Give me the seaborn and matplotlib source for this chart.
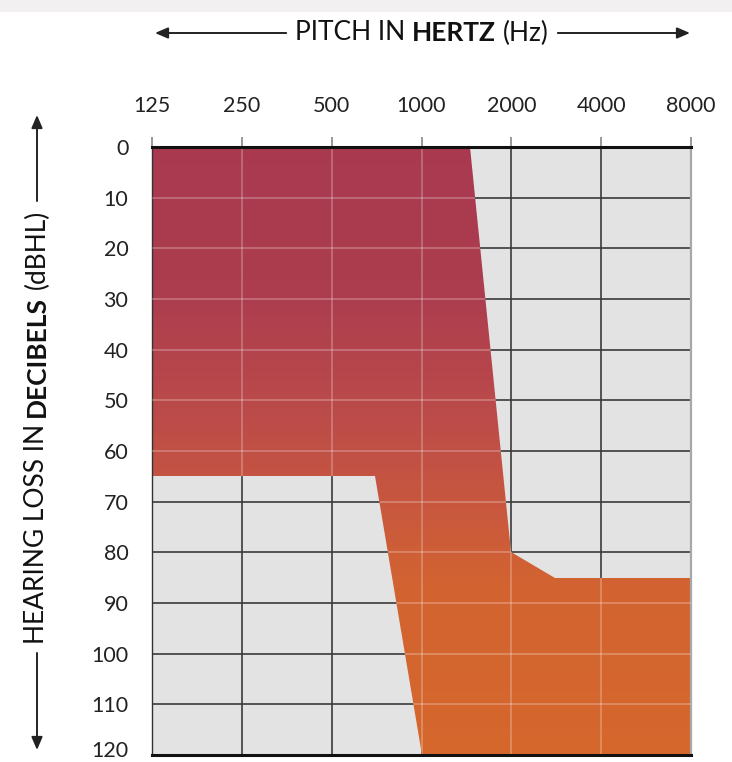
import numpy as np
import matplotlib
matplotlib.use("Agg")
import matplotlib.pyplot as plt
import matplotlib.transforms as mtransforms
import seaborn as sns
from matplotlib.patches import Polygon, Rectangle, FancyArrowPatch
from matplotlib.colors import LinearSegmentedColormap

# ---- data ----
freq_ticks = [125, 250, 500, 1000, 2000, 4000, 8000]
freq_labels = ["125", "250", "500", "1000", "2000", "4000", "8000"]
db_ticks = list(range(0, 121, 10))
# upper (softest-sound) boundary of the hearing-loss region
upper_freq = [125, 1450, 2000, 2800, 8000]
upper_db = [0, 0, 80, 85, 85]
# lower boundary of the region
lower_freq = [125, 700, 1000, 8000]
lower_db = [65, 65, 120, 120]

sns.set_theme(style="white")
plt.rcParams["font.family"] = ["Lato", "DejaVu Sans"]

W, H = 732, 762
fig = plt.figure(figsize=(W / 100, H / 100), dpi=100)
fig.patch.set_facecolor("white")
fig.patches.append(Rectangle((0, 1 - 12 / H), 1, 12 / H, transform=fig.transFigure,
                             facecolor="#f2f0f0", edgecolor="none", zorder=0))

ax = fig.add_axes([152 / W, 1 - 755 / H, (691 - 152) / W, (755 - 147) / H])
ax.set_facecolor("#e3e3e3")
ax.set_xscale("log", base=2)
ax.set_xlim(freq_ticks[0], freq_ticks[-1])
ax.set_ylim(db_ticks[-1], db_ticks[0])

# dark grid on grey background
for f in freq_ticks[1:-1]:
    ax.axvline(f, color="#3a3a3a", lw=1.2, zorder=1)
for d in db_ticks[1:-1]:
    ax.axhline(d, color="#3a3a3a", lw=1.2, zorder=1)

# region polygon
verts = list(zip(upper_freq, upper_db)) + list(zip(lower_freq[::-1], lower_db[::-1]))
poly = Polygon(verts, closed=True, facecolor="none", edgecolor="none", zorder=2)
ax.add_patch(poly)

cmap = LinearSegmentedColormap.from_list(
    "loss",
    [(0.0, "#a8394f"), (0.25, "#ac3d4e"), (0.46, "#bd4c49"),
     (0.58, "#c7563f"), (0.72, "#d26331"), (1.0, "#d5672c")])
yy = np.linspace(0, 120, 241)
cc = ((yy[:-1] + yy[1:]) / 2).reshape(-1, 1)
mesh = ax.pcolormesh([freq_ticks[0], freq_ticks[-1]], yy, cc, cmap=cmap,
                     vmin=0, vmax=120, shading="flat", zorder=2)
mesh.set_clip_path(poly)
sns.lineplot(x=upper_freq, y=upper_db, ax=ax, color="#a8394f", lw=0, zorder=2)

# light grid over the coloured region
for f in freq_ticks[1:-1]:
    l = ax.axvline(f, color="white", lw=1.1, alpha=0.3, zorder=3)
    l.set_clip_path(poly)
for d in db_ticks[1:-1]:
    l = ax.axhline(d, color="white", lw=1.1, alpha=0.3, zorder=3)
    l.set_clip_path(poly)

# spines
for s in ["top", "bottom"]:
    ax.spines[s].set_color("#111111")
    ax.spines[s].set_linewidth(2.2)
    ax.spines[s].set_zorder(5)
ax.spines["left"].set_color("#333333")
ax.spines["left"].set_linewidth(1.0)
ax.spines["right"].set_color("#a8a8a8")
ax.spines["right"].set_linewidth(1.6)

ax.set_xticks(freq_ticks)
ax.set_xticklabels(freq_labels)
ax.xaxis.set_minor_locator(matplotlib.ticker.NullLocator())
ax.set_yticks(db_ticks)
ax.set_yticklabels([str(d) for d in db_ticks])
ax.tick_params(axis="x", top=True, bottom=False, labeltop=True, labelbottom=False,
               length=7, width=1.2, color="#888888", pad=15.5, labelsize=15.5,
               labelcolor="#222222")
ax.tick_params(axis="y", left=False, length=0, pad=17, labelsize=15.5, labelcolor="#222222")

# keep the last y label inside the figure, as in the reference
lab = ax.get_yticklabels()[-1]
lab.set_transform(lab.get_transform() + mtransforms.ScaledTranslation(0, 6 / 100, fig.dpi_scale_trans))

# ---- multi-weight axis titles with arrows ----
renderer = fig.canvas.get_renderer()
tsize = 19


def measure(s, weight):
    t = fig.text(0, 0, s, fontsize=tsize, weight=weight)
    w = t.get_window_extent(renderer).width
    t.remove()
    return w


sp = measure("a a", "normal") - measure("aa", "normal")
parts = [("PITCH IN", "normal"), ("HERTZ", "bold"), ("(Hz)", "normal")]
widths = [measure(s, w) for s, w in parts]
total = sum(widths) + sp * (len(parts) - 1)
cx, cy = 422, 33
x0 = cx - total / 2
x = x0
for (s, w), wd in zip(parts, widths):
    fig.text(x / W, 1 - cy / H, s, fontsize=tsize, weight=w, ha="left", va="center",
             color="#111111")
    x += wd + sp
x1 = x - sp
arrow_kw = dict(arrowstyle="-|>,head_length=0.7,head_width=0.3", mutation_scale=11,
                color="#222222", lw=1.4, shrinkA=0, shrinkB=0)
fig.add_artist(FancyArrowPatch((x0 - 9, H - cy), (155, H - cy), transform=None, **arrow_kw))
fig.add_artist(FancyArrowPatch((x1 + 9, H - cy), (690, H - cy), transform=None, **arrow_kw))

vparts = [("HEARING LOSS IN", "normal"), ("DECIBELS", "bold"), ("(dBHL)", "normal")]
vwidths = [measure(s, w) for s, w in vparts]
vtotal = sum(vwidths) + sp * (len(vparts) - 1)
vcx, vcy = 37, 427
y = H - vcy - vtotal / 2
ybot = y
for (s, w), wd in zip(vparts, vwidths):
    fig.text(vcx / W, (y + wd / 2) / H, s, fontsize=tsize, weight=w, rotation=90,
             ha="center", va="center", rotation_mode="anchor", color="#111111")
    y += wd + sp
ytop = y - sp
fig.add_artist(FancyArrowPatch((vcx, ytop + 9), (vcx, H - 115), transform=None, **arrow_kw))
fig.add_artist(FancyArrowPatch((vcx, ybot - 9), (vcx, H - 750), transform=None, **arrow_kw))

fig.savefig("out.png", dpi=100)
